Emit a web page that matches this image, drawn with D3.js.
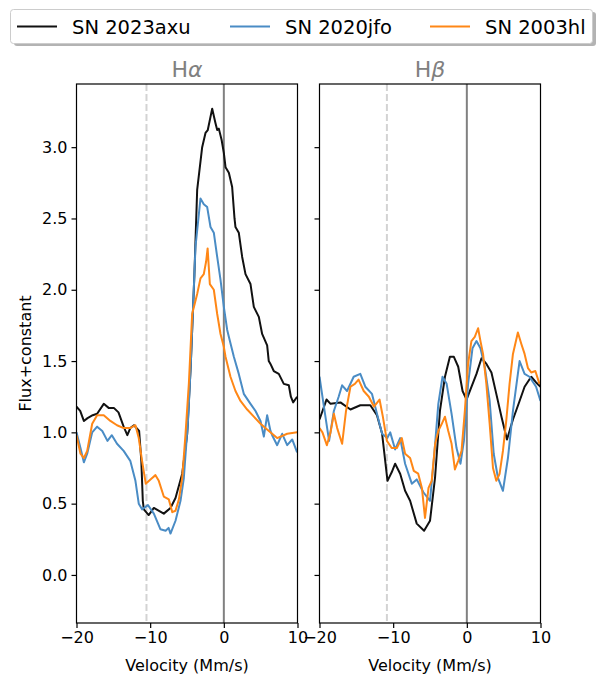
<!DOCTYPE html>
<html>
<head>
<meta charset="utf-8">
<script src="https://cdn.jsdelivr.net/npm/d3@7"></script>
<style>
  body { margin: 0; background: #fff; }
  text { font-family: "DejaVu Sans", sans-serif; }
</style>
</head>
<body>
<div id="chart"></div>
<script>
// series names and colours
const names = ["SN 2023axu", "SN 2020jfo", "SN 2003hl"];
const colors = ["#111111", "#4a8cc5", "#ff8716"];
const panels = [["H", "α"], ["H", "β"]];
const xTicks = [-20, -10, 0, 10];
const yTicks = [0, 0.5, 1, 1.5, 2, 2.5, 3];
const dashedVel = [-10.5, -10.85]; // light dashed marker per panel

// H-alpha profiles: [velocity Mm/s, flux+constant]
const haAxu = [[-20,1.18],[-19.5,1.15],[-19,1.08],[-18.5,1.1],[-17.8,1.12],[-17.2,1.13],[-16.3,1.2],[-15.6,1.17],[-14.9,1.17],[-14.3,1.14],[-13.6,1.04],[-13.1,0.98],[-12.7,1.03],[-12.2,1.05],[-11.5,1.01],[-11.2,0.8],[-11,0.52],[-10.86,0.46],[-10.2,0.42],[-9.5,0.47],[-8.8,0.45],[-8.15,0.43],[-7.24,0.47],[-6.56,0.54],[-5.65,0.71],[-4.97,0.99],[-4.5,1.46],[-4,2.1],[-3.62,2.7],[-2.94,3.0],[-2.49,3.1],[-2.18,3.12],[-1.58,3.27],[-1.14,3.17],[-0.9,3.12],[-0.68,3.13],[-0.3,3.05],[0,2.96],[0.23,2.86],[0.68,2.82],[1.13,2.72],[1.45,2.5],[1.58,2.44],[2.03,2.4],[2.49,2.23],[2.94,2.11],[3.62,2.04],[4.07,1.88],[4.75,1.81],[5.2,1.69],[5.88,1.61],[6.1,1.5],[6.33,1.48],[6.78,1.43],[7.46,1.41],[8.14,1.34],[8.82,1.33],[9.1,1.25],[9.41,1.21],[9.95,1.25]];
const haJfo = [[-20,1.0],[-19.46,0.89],[-19,0.79],[-18.55,0.85],[-17.87,1.0],[-17.2,1.04],[-16.5,1.01],[-15.8,0.94],[-15.2,0.98],[-14.5,0.92],[-13.6,0.87],[-12.7,0.8],[-12,0.66],[-11.55,0.5],[-11.1,0.46],[-10.3,0.49],[-9.5,0.43],[-8.6,0.32],[-7.9,0.31],[-7.5,0.33],[-7.24,0.29],[-6.56,0.38],[-5.88,0.52],[-5.43,0.68],[-4.84,1.1],[-4.5,1.46],[-3.85,2.3],[-3.17,2.64],[-2.72,2.6],[-2.26,2.58],[-1.81,2.44],[-1.36,2.4],[-0.9,2.23],[-0.45,2.07],[0,1.88],[0.45,1.72],[0.68,1.67],[1.36,1.53],[2.03,1.41],[2.71,1.27],[3.62,1.2],[4.3,1.15],[4.98,1.08],[5.43,0.97],[5.88,1.12],[6.33,1.01],[6.56,0.98],[7.24,0.91],[7.92,0.99],[8.6,0.91],[9.28,0.95],[9.95,0.86]];
const haHl = [[-20,0.98],[-19.46,0.85],[-19,0.82],[-18.55,0.87],[-17.87,1.06],[-17.2,1.12],[-16.3,1.12],[-15.4,1.08],[-14.5,1.05],[-13.6,1.03],[-12.7,1.03],[-12,1.05],[-11.55,0.96],[-11.1,0.8],[-10.6,0.64],[-9.96,0.67],[-9.28,0.7],[-8.83,0.66],[-8.15,0.55],[-7.47,0.53],[-7,0.44],[-6.56,0.45],[-6.1,0.53],[-5.65,0.68],[-5.2,0.99],[-4.75,1.34],[-4.3,1.83],[-3.62,1.97],[-3.17,2.08],[-2.72,2.11],[-2.4,2.2],[-2.2,2.29],[-1.9,2.04],[-1.36,2.0],[-0.9,1.83],[-0.45,1.69],[0,1.6],[0.23,1.53],[0.9,1.39],[1.58,1.29],[2.26,1.22],[3.17,1.16],[4.07,1.11],[4.98,1.06],[5.88,1.02],[7.24,0.96],[8.6,0.99],[9.95,1.0]];

// H-beta profiles
const hbAxu = [[-20,1.09],[-19.05,1.23],[-18.5,1.2],[-17.16,1.21],[-15.8,1.16],[-14.46,1.19],[-13.1,1.19],[-12.2,1.12],[-11.5,0.99],[-10.77,0.66],[-10.2,0.72],[-9.73,0.78],[-9.05,0.71],[-8.38,0.59],[-7.7,0.52],[-6.8,0.36],[-5.8,0.31],[-5,0.38],[-4.32,0.68],[-3.65,1.15],[-2.97,1.39],[-2.3,1.53],[-1.76,1.53],[-1.17,1.46],[-0.58,1.29],[-0.04,1.23],[0.64,1.32],[1.31,1.41],[1.99,1.52],[2.66,1.48],[3.34,1.42],[4,1.27],[4.7,1.11],[5.45,0.95],[6.26,1.09],[7.16,1.22],[7.84,1.32],[8.74,1.39],[9.4,1.35],[10,1.32]];
const hbJfo = [[-20,1.39],[-19.4,1.18],[-18.7,0.94],[-18.05,1.15],[-17.4,1.25],[-16.93,1.33],[-16.26,1.29],[-15.36,1.39],[-14.46,1.41],[-13.78,1.32],[-12.88,1.27],[-12.2,1.13],[-11.5,0.99],[-10.8,0.96],[-10.4,1.0],[-9.73,0.88],[-9.05,0.96],[-8.38,0.78],[-7.47,0.64],[-6.8,0.67],[-5.9,0.58],[-5,0.52],[-4.46,0.82],[-3.87,1.2],[-3.3,1.39],[-2.74,1.34],[-2.07,1.13],[-1.4,0.89],[-0.86,0.78],[-0.4,0.94],[0.17,1.34],[0.77,1.59],[1.31,1.64],[1.85,1.59],[2.43,1.46],[3.1,1.22],[3.65,0.85],[4.23,0.68],[4.9,0.59],[5.58,0.82],[6.26,1.15],[7.16,1.5],[7.84,1.41],[8.5,1.39],[9.4,1.32],[10,1.22]];
const hbHl = [[-20,1.03],[-19.6,1.0],[-19,0.91],[-18.5,1.0],[-18.05,1.13],[-17.6,1.03],[-16.93,0.92],[-16.4,1.15],[-15.8,1.32],[-15.2,1.34],[-14.7,1.37],[-14,1.29],[-13.3,1.25],[-12.6,1.18],[-11.85,1.23],[-11.4,1.11],[-10.85,0.94],[-10.2,0.89],[-9.5,0.89],[-8.83,0.96],[-8.38,0.85],[-7.7,0.82],[-7.2,0.73],[-6.6,0.71],[-6.1,0.61],[-5.68,0.4],[-5.2,0.61],[-4.77,0.66],[-4.3,0.92],[-3.87,1.01],[-3.4,1.06],[-2.97,1.11],[-2.52,1.01],[-2.07,0.92],[-1.62,0.74],[-1.17,0.8],[-0.72,0.87],[-0.27,1.15],[0.17,1.48],[0.62,1.64],[1.08,1.67],[1.53,1.73],[1.85,1.64],[2.2,1.55],[2.65,1.34],[3.1,1.06],[3.55,0.75],[4,0.66],[4.45,0.71],[4.9,0.87],[5.35,1.08],[5.8,1.34],[6.26,1.55],[6.93,1.7],[7.4,1.62],[7.84,1.55],[8.3,1.45],[8.74,1.42],[9.3,1.43],[9.86,1.34]];

const panelData = [[haAxu, haJfo, haHl], [hbAxu, hbJfo, hbHl]];

const width = 601, height = 684;
const plotTop = 84, plotBottom = 623;
const panelLeft = [76.5, 319.5];
const panelWidth = 221;

const svg = d3.select("#chart").append("svg")
  .attr("width", width)
  .attr("height", height);

const y = d3.scaleLinear().domain([-0.337, 3.443]).range([plotBottom, plotTop]);

panels.forEach((title, p) => {
  const x = d3.scaleLinear().domain([-20, 10]).range([panelLeft[p], panelLeft[p] + panelWidth]);
  const g = svg.append("g");

  g.append("clipPath").attr("id", `clip${p}`)
    .append("rect")
    .attr("x", panelLeft[p]).attr("y", plotTop)
    .attr("width", panelWidth).attr("height", plotBottom - plotTop);

  // reference lines
  g.append("line")
    .attr("x1", x(dashedVel[p])).attr("x2", x(dashedVel[p]))
    .attr("y1", plotTop).attr("y2", plotBottom)
    .attr("stroke", "#d3d3d3").attr("stroke-width", 2)
    .attr("stroke-dasharray", "7,3");
  g.append("line")
    .attr("x1", x(0)).attr("x2", x(0))
    .attr("y1", plotTop).attr("y2", plotBottom)
    .attr("stroke", "#808080").attr("stroke-width", 2);

  const line = d3.line().x(d => x(d[0])).y(d => y(d[1]));
  g.append("g").attr("clip-path", `url(#clip${p})`)
    .selectAll("path")
    .data(panelData[p])
    .join("path")
    .attr("d", line)
    .attr("fill", "none")
    .attr("stroke", (d, i) => colors[i])
    .attr("stroke-width", 2)
    .attr("stroke-linejoin", "round");

  // frame
  g.append("rect")
    .attr("x", panelLeft[p]).attr("y", plotTop)
    .attr("width", panelWidth).attr("height", plotBottom - plotTop)
    .attr("fill", "none").attr("stroke", "#000").attr("stroke-width", 1.2);

  const xAxis = g.append("g")
    .attr("transform", `translate(0,${plotBottom})`)
    .call(d3.axisBottom(x).tickValues(xTicks).tickSize(5).tickPadding(4));
  const yAxis = g.append("g")
    .attr("transform", `translate(${panelLeft[p]},0)`)
    .call(d3.axisLeft(y).tickValues(yTicks).tickSize(5).tickPadding(4)
      .tickFormat(p === 0 ? d3.format(".1f") : () => ""));
  [xAxis, yAxis].forEach(a => {
    a.select(".domain").remove();
    a.selectAll(".tick line").attr("stroke", "#000").attr("stroke-width", 1.2);
    a.selectAll(".tick text").attr("fill", "#000").style("font-size", "16px")
      .style("font-family", "DejaVu Sans");
  });

  const t = g.append("text")
    .attr("x", panelLeft[p] + panelWidth / 2)
    .attr("y", 77)
    .attr("text-anchor", "middle")
    .attr("fill", "#808080")
    .style("font-size", "22px");
  t.append("tspan").text(title[0]);
  t.append("tspan").style("font-style", "italic").text(title[1]);

  g.append("text")
    .attr("x", panelLeft[p] + panelWidth / 2)
    .attr("y", 671)
    .attr("text-anchor", "middle")
    .style("font-size", "16px")
    .text("Velocity (Mm/s)");
});

svg.append("text")
  .attr("transform", `translate(31,${(plotTop + plotBottom) / 2}) rotate(-90)`)
  .attr("text-anchor", "middle")
  .style("font-size", "16px")
  .text("Flux+constant");

// legend
const legend = svg.append("g");
legend.append("rect")
  .attr("x", 14).attr("y", 12).attr("width", 582).attr("height", 34)
  .attr("rx", 3).attr("fill", "#808080").attr("opacity", 0.6);
legend.append("rect")
  .attr("x", 10.5).attr("y", 9.5).attr("width", 582).attr("height", 34)
  .attr("rx", 3).attr("fill", "#fff").attr("stroke", "#cccccc");
const legendX = [17, 230, 430];
const items = legend.selectAll("g.item").data(names).join("g")
  .attr("transform", (d, i) => `translate(${legendX[i]},0)`);
items.append("line")
  .attr("x1", 0).attr("x2", 40).attr("y1", 26.5).attr("y2", 26.5)
  .attr("stroke", (d, i) => colors[i]).attr("stroke-width", 2);
items.append("text")
  .attr("x", 55).attr("y", 33.5)
  .style("font-size", "19.5px")
  .text(d => d);
</script>
</body>
</html>
